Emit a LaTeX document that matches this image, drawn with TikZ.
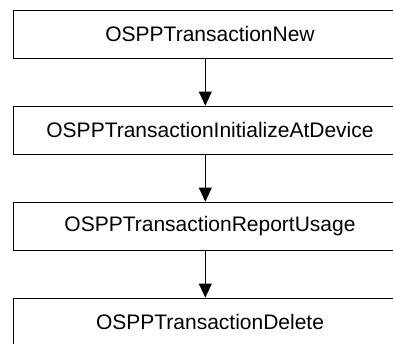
\documentclass[tikz,border=0pt]{standalone}
\usepackage{fontspec}
\setmainfont{Liberation Sans}
\usetikzlibrary{arrows.meta}
\begin{document}
\begin{tikzpicture}[x=1pt,y=-1pt,
  stepbox/.style={draw, line width=0.9pt, rectangle, minimum width=394pt,
    minimum height=48pt, inner sep=0pt, font=\fontsize{21}{25}\selectfont},
  flow/.style={line width=0.9pt, -{Triangle[length=14pt,width=13pt]}}]
  \clip (0,0) rectangle (393,343);
  \fill[white] (0,0) rectangle (393,343);
  % call sequence, top to bottom
  \node[stepbox] (new)   at (210,34)  {OSPPTransactionNew};
  \node[stepbox] (init)  at (210,130) {OSPPTransactionInitializeAtDevice};
  \node[stepbox] (usage) at (210,226) {OSPPTransactionReportUsage};
  \node[stepbox] (del)   at (210,322) {OSPPTransactionDelete};
  % connectors sit slightly left of the box centre
  \draw[flow] ([xshift=-4.7pt]new.south)   -- ([xshift=-4.7pt]init.north);
  \draw[flow] ([xshift=-4.7pt]init.south)  -- ([xshift=-4.7pt]usage.north);
  \draw[flow] ([xshift=-4.7pt]usage.south) -- ([xshift=-4.7pt]del.north);
\end{tikzpicture}
\end{document}
